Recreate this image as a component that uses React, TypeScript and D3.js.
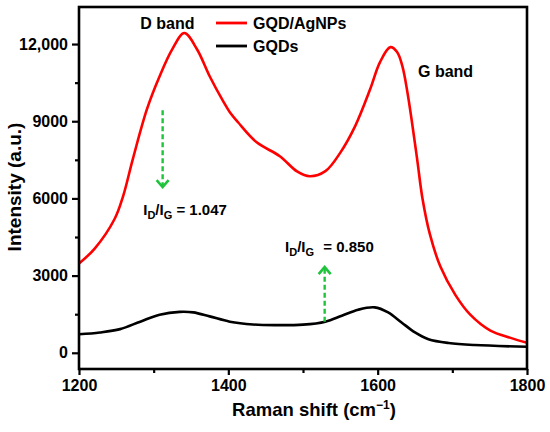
import { useRef, useEffect } from 'react';
import * as d3 from 'd3';

// Raman spectra (shift in cm^-1, intensity in a.u.)
const agShift = [1200, 1221, 1248, 1259, 1272, 1291, 1308, 1325, 1341, 1358, 1375, 1393, 1402, 1413, 1438, 1469, 1492, 1509, 1530, 1550, 1570, 1590, 1603, 1617, 1626, 1633, 1640, 1646, 1653, 1660, 1670, 1684, 1704, 1724, 1751, 1778, 1800];
const agIntensity = [3470, 4050, 5220, 6080, 7520, 9470, 10750, 11800, 12430, 11800, 10750, 9780, 9350, 8960, 8180, 7640, 7050, 6860, 7060, 7780, 8820, 10250, 11290, 11880, 11690, 11150, 10100, 8950, 7500, 6000, 4600, 3350, 2250, 1480, 860, 580, 390];

const gqdShift = [1200, 1228, 1255, 1282, 1308, 1335, 1353, 1375, 1402, 1433, 1462, 1500, 1530, 1552, 1574, 1596, 1614, 1632, 1650, 1668, 1695, 1730, 1800];
const gqdIntensity = [720, 790, 920, 1210, 1480, 1590, 1570, 1415, 1210, 1100, 1075, 1095, 1210, 1440, 1675, 1765, 1570, 1180, 790, 530, 380, 300, 235];

const xTicks = [1200, 1400, 1600, 1800];
const xMinorTicks = [1300, 1500, 1700];
const yTicks = [0, 3000, 6000, 9000, 12000];
const yMinorTicks = [1500, 4500, 7500, 10500];

const seriesNames = ['GQD/AgNPs', 'GQDs'];
const seriesColors = ['#ff0000', '#000000'];

// ratio annotations: arrow at a shift, from / to intensity, label value
const ratioShift = [1312, 1529];
const ratioFrom = [9430, 1210];
const ratioTo = [6440, 3330];
const ratioLabel = ['1.047', '0.850'];

export default function App() {
  const svgRef = useRef<SVGSVGElement>(null);

  useEffect(() => {
    if (!svgRef.current) return;
    const el = svgRef.current;
    d3.select(el).selectAll('*').remove();

    const W = 550, H = 432;
    const margin = { top: 7, right: 23, bottom: 63, left: 79 };
    const width = W - margin.left - margin.right;
    const height = H - margin.top - margin.bottom;
    const font = '"Liberation Sans", Arial, sans-serif';

    const svg = d3.select(el).append('g')
      .attr('transform', `translate(${margin.left},${margin.top})`)
      .attr('font-family', font);

    const x = d3.scaleLinear().domain([1200, 1800]).range([0, width]);
    const y = d3.scaleLinear().domain([-630, 13440]).range([height, 0]);

    // axes
    const xAxis = svg.append('g').attr('transform', `translate(0,${height})`)
      .call(d3.axisBottom(x).tickValues(xTicks).tickSize(6).tickSizeOuter(0).tickPadding(5).tickFormat((d) => String(d)));
    xAxis.select('.domain').remove();
    xAxis.selectAll('line').attr('stroke', '#000').attr('stroke-width', 2.2);
    xAxis.selectAll('text').attr('fill', '#000').attr('font-size', 16).attr('font-weight', 'bold').attr('font-family', font);
    const xMinor = svg.append('g').attr('transform', `translate(0,${height})`)
      .call(d3.axisBottom(x).tickValues(xMinorTicks).tickSize(4).tickSizeOuter(0).tickFormat(() => ''));
    xMinor.select('.domain').remove();
    xMinor.selectAll('line').attr('stroke', '#000').attr('stroke-width', 2.2);

    const yAxis = svg.append('g')
      .call(d3.axisLeft(y).tickValues(yTicks).tickSize(7).tickSizeOuter(0).tickPadding(4)
        .tickFormat((d) => { const v = d as number; return v >= 10000 ? d3.format(',')(v) : String(v); }));
    yAxis.select('.domain').remove();
    yAxis.selectAll('line').attr('stroke', '#000').attr('stroke-width', 2.2);
    yAxis.selectAll('text').attr('fill', '#000').attr('font-size', 16).attr('font-weight', 'bold').attr('font-family', font);
    const yMinor = svg.append('g')
      .call(d3.axisLeft(y).tickValues(yMinorTicks).tickSize(4).tickSizeOuter(0).tickFormat(() => ''));
    yMinor.select('.domain').remove();
    yMinor.selectAll('line').attr('stroke', '#000').attr('stroke-width', 2.2);

    // spectra
    const line = d3.line<[number, number]>()
      .x((d) => x(d[0])).y((d) => y(d[1]))
      .curve(d3.curveCatmullRom.alpha(0.5));
    const series = [
      d3.zip(agShift, agIntensity) as [number, number][],
      d3.zip(gqdShift, gqdIntensity) as [number, number][],
    ];
    series.forEach((pts, i) => {
      svg.append('path').datum(pts)
        .attr('d', line)
        .attr('fill', 'none')
        .attr('stroke', seriesColors[i])
        .attr('stroke-width', 2.6)
        .attr('stroke-linejoin', 'round');
    });

    // frame
    svg.append('rect').attr('x', 0).attr('y', 0).attr('width', width).attr('height', height)
      .attr('fill', 'none').attr('stroke', '#000').attr('stroke-width', 2.6);

    // green dashed arrows
    const green = '#1fc43c';
    ratioShift.forEach((s, i) => {
      const ax = x(s);
      const y0 = y(ratioFrom[i]);
      const y1 = y(ratioTo[i]);
      const dir = y1 > y0 ? 1 : -1;
      svg.append('line').attr('x1', ax).attr('x2', ax).attr('y1', y0).attr('y2', y1 - dir * 1)
        .attr('stroke', green).attr('stroke-width', 2.4).attr('stroke-dasharray', '5,3');
      svg.append('path')
        .attr('d', `M${ax - 6},${y1 - dir * 7} L${ax},${y1} L${ax + 6},${y1 - dir * 7}`)
        .attr('fill', 'none').attr('stroke', green).attr('stroke-width', 2.6);
    });

    // ratio labels
    const ratioText = (tx: number, ty: number, value: string, gap: number) => {
      const t = svg.append('text').attr('x', tx).attr('y', ty)
        .attr('font-size', 15).attr('font-weight', 'bold').attr('fill', '#000');
      t.append('tspan').text('I');
      t.append('tspan').attr('dy', 4).attr('font-size', 11).text('D');
      t.append('tspan').attr('dy', -4).text('/I');
      t.append('tspan').attr('dy', 4).attr('font-size', 11).text('G');
      t.append('tspan').attr('dy', -4).attr('dx', gap).text(` = ${value}`);
    };
    ratioText(x(1286), y(5360), ratioLabel[0], 0);
    ratioText(x(1476), y(3920), ratioLabel[1], 5);

    // band labels
    svg.append('text').attr('x', x(1282)).attr('y', y(12590))
      .attr('font-size', 16).attr('font-weight', 'bold').text('D band');
    svg.append('text').attr('x', x(1654)).attr('y', y(10720))
      .attr('font-size', 16).attr('font-weight', 'bold').text('G band');

    // legend
    seriesNames.forEach((name, i) => {
      const ly = 16 + i * 23;
      svg.append('line').attr('x1', 137).attr('x2', 168).attr('y1', ly).attr('y2', ly)
        .attr('stroke', seriesColors[i]).attr('stroke-width', 2.8);
      svg.append('text').attr('x', 174).attr('y', ly + 6)
        .attr('font-size', 16).attr('font-weight', 'bold').text(name);
    });

    // axis titles
    const xt = svg.append('text').attr('x', width / 2 + 11).attr('y', height + 47)
      .attr('text-anchor', 'middle').attr('font-size', 18.5).attr('font-weight', 'bold');
    xt.append('tspan').text('Raman shift (cm');
    xt.append('tspan').attr('dy', -7).attr('font-size', 12).text('\u22121');
    xt.append('tspan').attr('dy', 7).text(')');

    svg.append('text')
      .attr('transform', `translate(${-58},${height / 2 - 1}) rotate(-90)`)
      .attr('text-anchor', 'middle').attr('font-size', 19).attr('font-weight', 'bold')
      .text('Intensity (a.u.)');
  }, []);

  return (
    <svg ref={svgRef} width={550} height={432}
      style={{ position: 'absolute', left: 0, top: 0, background: '#fff' }} />
  );
}
